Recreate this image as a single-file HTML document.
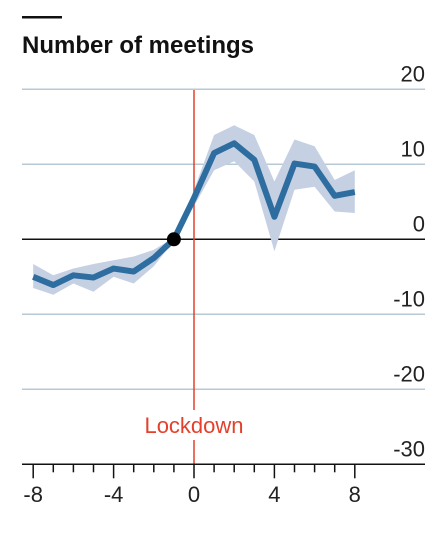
<!DOCTYPE html>
<html><head><meta charset="utf-8"><style>
body{margin:0;background:#fff;}
svg{display:block;font-family:"Liberation Sans",sans-serif;}
</style></head><body>
<svg width="446" height="540">
<rect x="22" y="16" width="40" height="2.5" fill="#111"/>
<text x="22" y="53" font-size="24" font-weight="bold" fill="#111">Number of meetings</text>
<g id="grid"></g><g id="band"></g><g id="lines"></g><g id="axis"></g>
</svg>
<script>
const xs=[-8,-7,-6,-5,-4,-3,-2,-1,0,1,2,3,4,5,6,7,8];
const values=[-5.0,-6.1,-4.8,-5.1,-3.9,-4.3,-2.5,0,5.5,11.5,12.8,10.6,3.0,10.1,9.7,5.8,6.3];
const upper=[-3.3,-4.8,-3.9,-3.3,-2.8,-2.3,-1.4,0.2,6.6,13.9,15.2,13.9,7.7,13.3,12.4,7.9,9.2];
const lower=[-6.5,-7.4,-5.9,-7.0,-5.0,-5.9,-3.6,-0.2,4.4,9.2,10.4,7.7,-1.6,6.6,7.0,3.7,3.5];
const yTicks=[20,10,0,-10,-20,-30];
const xTicks=[-8,-4,0,4,8];
const NS="http://www.w3.org/2000/svg";
const X=v=>194+v*20.1;
const Y=v=>239.3-v*7.5;
function mk(p,t,a){const e=document.createElementNS(NS,t);for(const k in a)e.setAttribute(k,a[k]);document.getElementById(p).appendChild(e);return e;}
yTicks.forEach(t=>{
 let l=mk('grid','line',{x1:22,x2:425,y1:Y(t),y2:Y(t),stroke:t===0?'#111':'#b7c9d5','stroke-width':1.5});
 
 
 let tx=mk('grid','text',{x:425,y:Y(t)-8,'text-anchor':'end','font-size':22,fill:'#222'});
 tx.textContent=t;
 
 
});
let bp=xs.map((x,i)=>X(x)+','+Y(upper[i])).concat(xs.map((x,i)=>X(x)+','+Y(lower[i])).reverse());
let band=mk('band','polygon',{points:bp.join(' '),fill:'#c5d0e3'});


let red=mk('lines','line',{x1:X(0),x2:X(0),y1:90,y2:Y(-30),stroke:'#e3412b','stroke-width':1.5});


let lr=mk('lines','rect',{x:134,y:410,width:122,height:30,fill:'#fff'});


let lt=mk('lines','text',{x:X(0),y:433,'text-anchor':'middle','font-size':22,fill:'#e3412b'});
lt.textContent='Lockdown';


let ln=mk('lines','polyline',{points:xs.map((x,i)=>X(x)+','+Y(values[i])).join(' '),fill:'none',stroke:'#2e6da0','stroke-width':6,'stroke-linejoin':'round'});


let dot=mk('lines','circle',{cx:X(-1),cy:Y(0),r:7,fill:'#000'});


let ax=mk('axis','line',{x1:22,x2:425,y1:Y(-30),y2:Y(-30),stroke:'#111','stroke-width':1.5});


xs.forEach(x=>{
 let major=xTicks.includes(x);
 let t=mk('axis','line',{x1:X(x),x2:X(x),y1:Y(-30),y2:Y(-30)+(major?14:8),stroke:'#111','stroke-width':1.5});
 
 
});
xTicks.forEach(x=>{
 let t=mk('axis','text',{x:X(x),y:502,'text-anchor':'middle','font-size':22,fill:'#222'});
 t.textContent=x;
 
 
});
</script>
</body></html>
